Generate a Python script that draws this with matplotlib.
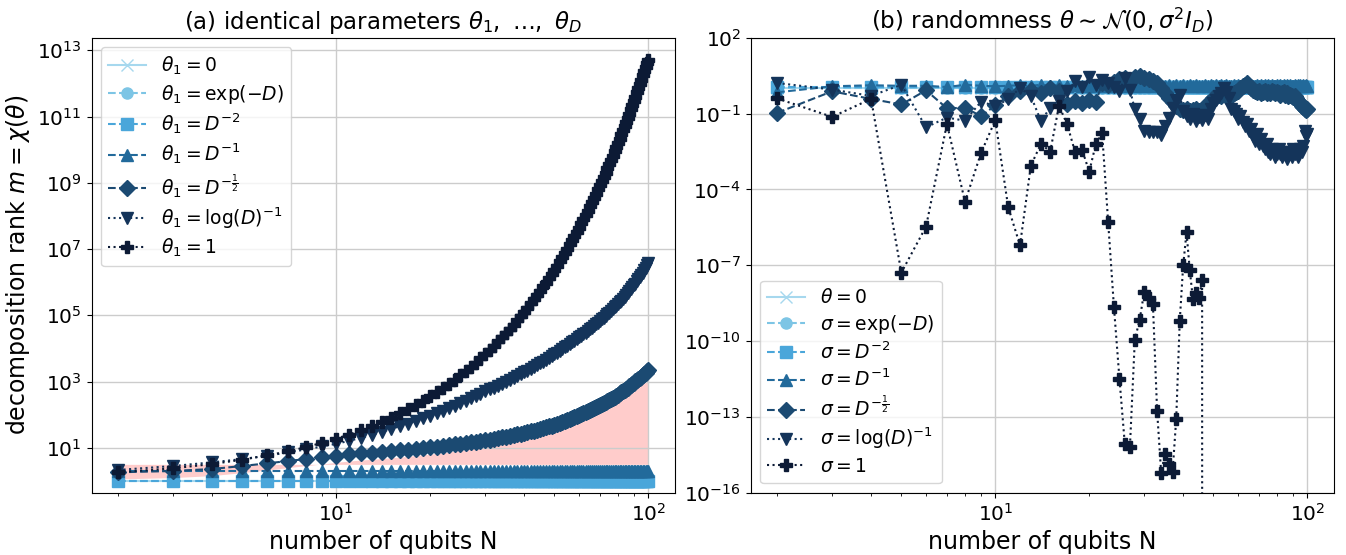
import numpy as np
import matplotlib.pyplot as plt
from matplotlib.ticker import FixedLocator, NullLocator, LogFormatterSciNotation

# number of qubits
N = list(range(2, 101))

# ---- panel (a): log10 of decomposition rank ----
a_zero = [0.0] * 99
a_expD = [0.0] * 99
a_Dm2 = [0.0] * 99
a_Dm1 = [0.30] * 99
a_Dmh = [0.26, 0.30, 0.36, 0.45, 0.53, 0.60, 0.66, 0.71, 0.76, 0.80,
         0.83, 0.85, 0.88, 0.90, 0.92, 0.94, 0.97, 0.99, 1.01, 1.03,
         1.05, 1.08, 1.10, 1.12, 1.14, 1.16, 1.19, 1.21, 1.23, 1.25,
         1.27, 1.30, 1.32, 1.34, 1.36, 1.38, 1.41, 1.43, 1.45, 1.47,
         1.50, 1.52, 1.55, 1.57, 1.60, 1.62, 1.65, 1.67, 1.70, 1.73,
         1.76, 1.78, 1.81, 1.84, 1.87, 1.90, 1.92, 1.95, 1.98, 2.01,
         2.04, 2.07, 2.10, 2.13, 2.16, 2.19, 2.22, 2.25, 2.28, 2.31,
         2.34, 2.38, 2.41, 2.44, 2.47, 2.50, 2.54, 2.57, 2.60, 2.64,
         2.67, 2.71, 2.74, 2.78, 2.82, 2.86, 2.89, 2.93, 2.97, 3.01,
         3.04, 3.08, 3.11, 3.15, 3.19, 3.23, 3.27, 3.31, 3.35]
a_logm1 = [0.33, 0.45, 0.56, 0.66, 0.76, 0.86, 0.95, 1.04, 1.12, 1.21,
           1.30, 1.39, 1.48, 1.57, 1.65, 1.73, 1.81, 1.89, 1.97, 2.05,
           2.12, 2.20, 2.27, 2.35, 2.42, 2.49, 2.56, 2.63, 2.70, 2.76,
           2.82, 2.88, 2.94, 3.00, 3.06, 3.11, 3.17, 3.22, 3.28, 3.33,
           3.39, 3.44, 3.50, 3.55, 3.60, 3.66, 3.71, 3.77, 3.82, 3.87,
           3.92, 3.98, 4.03, 4.08, 4.13, 4.18, 4.23, 4.28, 4.33, 4.38,
           4.43, 4.48, 4.53, 4.58, 4.63, 4.68, 4.73, 4.78, 4.83, 4.88,
           4.93, 4.98, 5.03, 5.08, 5.13, 5.18, 5.24, 5.29, 5.34, 5.39,
           5.44, 5.50, 5.55, 5.60, 5.66, 5.72, 5.78, 5.84, 5.90, 5.96,
           6.03, 6.09, 6.16, 6.22, 6.29, 6.36, 6.44, 6.51, 6.58]
a_one = [0.26, 0.38, 0.51, 0.64, 0.77, 0.89, 1.02, 1.15, 1.28, 1.40,
         1.53, 1.66, 1.79, 1.91, 2.04, 2.17, 2.30, 2.42, 2.55, 2.68,
         2.81, 2.93, 3.06, 3.19, 3.32, 3.44, 3.57, 3.70, 3.83, 3.95,
         4.08, 4.21, 4.34, 4.46, 4.59, 4.72, 4.85, 4.97, 5.10, 5.23,
         5.36, 5.48, 5.61, 5.74, 5.87, 5.99, 6.12, 6.25, 6.38, 6.50,
         6.63, 6.76, 6.89, 7.01, 7.14, 7.27, 7.40, 7.52, 7.65, 7.78,
         7.91, 8.03, 8.16, 8.29, 8.42, 8.54, 8.67, 8.80, 8.93, 9.05,
         9.18, 9.31, 9.44, 9.56, 9.69, 9.82, 9.95, 10.07, 10.20, 10.33,
         10.46, 10.58, 10.71, 10.84, 10.97, 11.09, 11.22, 11.35, 11.48, 11.60,
         11.73, 11.86, 11.99, 12.11, 12.24, 12.37, 12.50, 12.62, 12.70]
# shaded region (log10 bounds): flat floor, ceiling just under the D^-1/2 curve
band_lo = [0.50] * 99
band_hi = [v - 0.2 for v in a_Dmh]

# ---- panel (b): log10 values ----
b_zero = [0.0] * 99
b_expD = [0.02] * 99
b_Dm2 = [0.04] * 99
b_Dm1 = [-0.16, 0.08, 0.12, 0.10, 0.10, 0.05, 0.14, 0.10, 0.08, 0.10, 0.12] + \
        [0.10, 0.14, 0.10, 0.12, 0.10, 0.13, 0.10, 0.12, 0.11, 0.13, 0.10] * 8
b_Dmh = [-0.97, -0.12, -0.42, -0.64, -0.08, -0.79, -0.77, -1.1, -0.68,
         -0.31, -0.1, -0.05, -0.2, 0.0, -0.1, -0.64, -0.5, -0.6, -0.45,
         -0.55, 0.2, 0.15, 0.25, 0.35, 0.4, 0.3, 0.45, 0.5, 0.4,
         0.35, 0.3, 0.2, 0.0, -0.2, -0.4, -0.55, -0.7, -0.8, -0.85,
         -0.8, -0.9, -0.85, -0.8, -0.9, -0.85, -0.75, -0.6, -0.5, -0.4,
         -0.35, -0.25, -0.3, -0.2, -0.3, -0.25, -0.3, -0.2, -0.15, -0.1,
         0.0, 0.1, 0.15, 0.2, 0.1, 0.0, -0.05, -0.1, -0.15, -0.1,
         -0.2, -0.15, -0.1, -0.2, -0.15, -0.2, -0.1, -0.15, -0.2, -0.15,
         -0.2, -0.25, -0.2, -0.15, -0.25, -0.2, -0.3, -0.25, -0.3, -0.35,
         -0.3, -0.4, -0.5, -0.55, -0.6, -0.7, -0.75, -0.8, -0.85, -0.83]
b_logm1 = [0.21, -0.05, -0.3, 0.14, -1.54, -1.16, -1.28, -0.53, -0.7,
           -0.44, 0.01, -0.3, -1.29, -0.77, -0.5, -0.12, 0.27, 0.04, 0.43,
           0.12, 0.34, 0.2, 0.05, -0.1, 0.4, -0.05, -0.83, -1.22, -1.67,
           -1.74, -1.74, -1.74, -1.83, -1.48, -1.16, -0.79, -0.48, -0.25, -0.9,
           -1.1, -1.2, -1.0, -1.3, -1.15, -1.25, -1.05, -1.2, -0.8, -0.6,
           -0.45, -0.3, -0.2, 0.0, -0.15, -0.4, -0.8, -0.9, -1.0, -1.2,
           -1.1, -1.35, -1.5, -1.4, -1.7, -1.6, -1.9, -2.1, -1.8, -2.2,
           -2.0, -2.3, -2.4, -2.2, -2.5, -2.6, -2.4, -2.5, -2.7, -2.6,
           -2.4, -2.6, -2.7, -2.5, -2.6, -2.8, -2.5, -2.6, -2.7, -2.4,
           -2.6, -2.5, -2.7, -2.5, -2.4, -2.5, -2.3, -1.7, -1.9, -1.8]
b_one = [-0.40, -1.13, -0.42, -7.29, -5.47, -1.41, -4.49, -2.56, -1.26,
         -4.7, -6.21, -3.06, -2.2, -2.5, -0.69, -1.43, -2.5, -2.45, -3.3,
         -2.2, -1.78, -5.3, -8.65, -11.5, -14.06, -14.2, -9.94, -9.17, -8.05,
         -8.3, -8.55, -12.76, -15.2, -14.45, -14.84, -15.16, -13.06, -9.2, -7.0,
         -5.7, -7.2, -8.35, -8.1, -8.3, -7.6] + [-np.inf] * 54

colors = ['#a6d8ee', '#7dc5e5', '#4aa6da', '#226a9b', '#1b4a72', '#14345a', '#0c1a35']
markers = ['x', 'o', 's', '^', 'D', 'v', 'P']
styles = ['-', '--', '--', '--', '--', ':', ':']
a_labels = [r'$\theta_1 = 0$', r'$\theta_1 = \exp(-D)$', r'$\theta_1 = D^{-2}$', r'$\theta_1 = D^{-1}$',
            r'$\theta_1 = D^{-\frac{1}{2}}$', r'$\theta_1 = \log(D)^{-1}$', r'$\theta_1 = 1$']
b_labels = [r'$\theta = 0$', r'$\sigma = \exp(-D)$', r'$\sigma = D^{-2}$', r'$\sigma = D^{-1}$',
            r'$\sigma = D^{-\frac{1}{2}}$', r'$\sigma = \log(D)^{-1}$', r'$\sigma = 1$']

a_series = [a_zero, a_expD, a_Dm2, a_Dm1, a_Dmh, a_logm1, a_one]
b_series = [b_zero, b_expD, b_Dm2, b_Dm1, b_Dmh, b_logm1, b_one]

plt.rcParams['font.size'] = 14
fig, (ax1, ax2) = plt.subplots(1, 2, figsize=(13.46, 5.55), dpi=100)
fig.subplots_adjust(left=0.068, right=0.991, bottom=0.112, top=0.932, wspace=0.13)

ax1.fill_between(N, 10 ** np.array(band_lo), 10 ** np.array(band_hi), color='#ffcccb', lw=0)
for vals, c, m, ls, lab in zip(a_series, colors, markers, styles, a_labels):
    ax1.plot(N, 10 ** np.array(vals), color=c, marker=m, ls=ls, label=lab, ms=8, lw=1.5)
for vals, c, m, ls, lab in zip(b_series, colors, markers, styles, b_labels):
    ax2.plot(N, 10 ** np.array(vals), color=c, marker=m, ls=ls, label=lab, ms=8, lw=1.5)

for ax in (ax1, ax2):
    ax.set_xscale('log')
    ax.set_yscale('log')
    ax.grid(True, which='major', color='#cccccc', lw=1)
    ax.set_xlabel('number of qubits N', fontsize=17)
    ax.yaxis.set_minor_locator(NullLocator())
    ax.tick_params(labelsize=14.5)

ax1.set_ylim(10 ** -0.36, 10 ** 13.38)
ax1.yaxis.set_major_locator(FixedLocator([10.0 ** k for k in range(1, 14, 2)]))
ax1.yaxis.set_major_formatter(LogFormatterSciNotation())
ax1.set_ylabel(r'decomposition rank $m = \chi(\theta)$', fontsize=17)
ax1.set_title(r'(a) identical parameters $\theta_1,\ \ldots,\ \theta_D$', fontsize=16.5)
ax1.legend(loc='upper left', fontsize=13.5, labelspacing=0.3)

ax2.set_ylim(1e-16, 1e2)
ax2.yaxis.set_major_locator(FixedLocator([10.0 ** k for k in range(2, -17, -3)]))
ax2.yaxis.set_major_formatter(LogFormatterSciNotation())
ax2.set_title(r'(b) randomness $\theta \sim \mathcal{N}(0, \sigma^2 I_D)$', fontsize=16.5)
ax2.legend(loc='lower left', fontsize=13.5, labelspacing=0.3)

fig.savefig('out.png')
